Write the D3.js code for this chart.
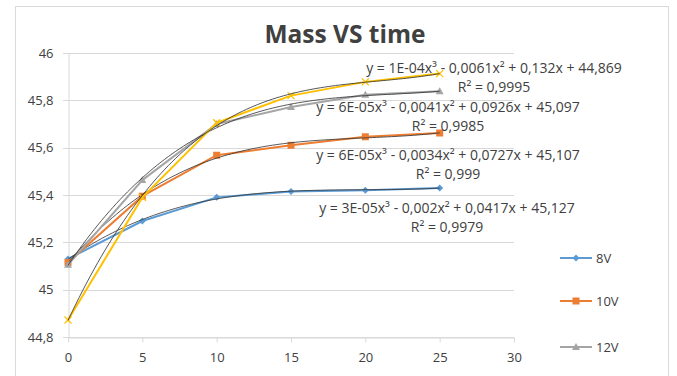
<!DOCTYPE html>
<html>
<head>
<meta charset="utf-8">
<script src="https://cdn.jsdelivr.net/npm/d3@7"></script>
<style>
  body { margin: 0; background: #fff; }
  text { font-family: "Open Sans", "DejaVu Sans", sans-serif; fill: #404040; }
</style>
</head>
<body>
<div id="chart"></div>
<script>
// data
const times = [0, 5, 10, 15, 20, 25];
const seriesNames = ["8V", "10V", "12V", "14V"];
const mass8V  = [45.13, 45.29, 45.39, 45.415, 45.42, 45.43];
const mass10V = [45.115, 45.395, 45.568, 45.61, 45.646, 45.662];
const mass12V = [45.105, 45.463, 45.70, 45.772, 45.824, 45.838];
const mass14V = [44.872, 45.39, 45.705, 45.82, 45.878, 45.913];
const equations = [
  "y = 3E-05x³ - 0,002x² + 0,0417x + 45,127",
  "y = 6E-05x³ - 0,0034x² + 0,0727x + 45,107",
  "y = 6E-05x³ - 0,0041x² + 0,0926x + 45,097",
  "y = 1E-04x³ - 0,0061x² + 0,132x + 44,869"
];
const rSquared = ["R² = 0,9979", "R² = 0,999", "R² = 0,9985", "R² = 0,9995"];
const xTicks = [0, 5, 10, 15, 20, 25, 30];
const yTicks = [44.8, 45, 45.2, 45.4, 45.6, 45.8, 46];

const allSeries = [mass8V, mass10V, mass12V, mass14V];
const colors = ["#5B9BD5", "#ED7D31", "#A5A5A5", "#FFC000"];
const markers = ["diamond", "square", "triangle", "cross"];
// where Excel put the trendline labels (centre x, baseline of the equation line)
const labelPos = [[447, 213], [448, 160], [448, 112], [494, 73]];

const width = 677, height = 376;
const margin = {top: 53, right: 163, bottom: 39, left: 68};

const svg = d3.select("#chart").append("svg")
  .attr("width", width).attr("height", height);

// chart frame
svg.append("rect")
  .attr("x", 15.5).attr("y", 6.5).attr("width", 653).attr("height", 380)
  .attr("fill", "none").attr("stroke", "#d9d9d9");

const x = d3.scaleLinear().domain([0, 30]).range([margin.left, width - margin.right]);
const y = d3.scaleLinear().domain([44.8, 46]).range([height - margin.bottom, margin.top]);

// gridlines
svg.append("g").selectAll("line").data(yTicks).join("line")
  .attr("x1", x(0) - 5).attr("x2", x(30))
  .attr("y1", d => Math.round(y(d)) + 0.5).attr("y2", d => Math.round(y(d)) + 0.5)
  .attr("stroke", "#d9d9d9");

// y axis
const yAxis = svg.append("g")
  .attr("transform", `translate(${Math.round(x(0)) + 0.5},0)`)
  .call(d3.axisLeft(y).tickValues(yTicks).tickSize(0).tickPadding(15)
    .tickFormat(d => String(d).replace(".", ",")));
yAxis.select(".domain").attr("stroke", "#d9d9d9");
yAxis.selectAll("text").style("font-size", "13px").attr("fill", "#595959");

// x axis
const xAxis = svg.append("g")
  .attr("transform", `translate(0,${Math.round(y(44.8)) + 0.5})`)
  .call(d3.axisBottom(x).tickValues(xTicks).tickSize(5).tickPadding(10).tickSizeOuter(0));
xAxis.select(".domain").attr("stroke", "#d9d9d9");
xAxis.selectAll("line").attr("stroke", "#d9d9d9");
xAxis.selectAll("text").style("font-size", "13px").attr("fill", "#595959");

// title
svg.append("text")
  .attr("x", 345).attr("y", 43)
  .attr("text-anchor", "middle")
  .style("font-size", "24.5px").style("font-weight", "bold").attr("fill", "#000")
  .text("Mass VS time");

// cubic least squares fit, like Excel's polynomial trendline
function cubicFit(xs, ys) {
  const n = 4;
  const A = [], b = [];
  for (let i = 0; i < n; i++) {
    A.push([]);
    for (let j = 0; j < n; j++) A[i].push(d3.sum(xs, v => Math.pow(v, i + j)));
    b.push(d3.sum(xs, (v, k) => Math.pow(v, i) * ys[k]));
  }
  for (let c = 0; c < n; c++) {
    for (let r = c + 1; r < n; r++) {
      const f = A[r][c] / A[c][c];
      for (let k = c; k < n; k++) A[r][k] -= f * A[c][k];
      b[r] -= f * b[c];
    }
  }
  const coef = new Array(n).fill(0);
  for (let r = n - 1; r >= 0; r--) {
    let s = b[r];
    for (let k = r + 1; k < n; k++) s -= A[r][k] * coef[k];
    coef[r] = s / A[r][r];
  }
  return t => coef[0] + coef[1] * t + coef[2] * t * t + coef[3] * t * t * t;
}

const line = d3.line().x(d => x(d[0])).y(d => y(d[1]));

function marker(g, type, color) {
  if (type === "diamond") {
    g.append("path").attr("d", "M0,-3.5L3.5,0L0,3.5L-3.5,0Z").attr("fill", color);
  } else if (type === "square") {
    g.append("rect").attr("x", -3.5).attr("y", -3.5).attr("width", 7).attr("height", 7).attr("fill", color);
  } else if (type === "triangle") {
    g.append("path").attr("d", "M0,-4L4,3L-4,3Z").attr("fill", color);
  } else {
    g.append("path").attr("d", "M-3.5,-3.5L3.5,3.5M-3.5,3.5L3.5,-3.5")
      .attr("stroke", color).attr("stroke-width", 1.3).attr("fill", "none");
  }
}

allSeries.forEach((vals, i) => {
  const pts = times.map((t, k) => [t, vals[k]]);
  const g = svg.append("g");
  g.append("path").datum(pts).attr("d", line)
    .attr("fill", "none").attr("stroke", colors[i]).attr("stroke-width", 2);
  g.selectAll("g.pt").data(pts).join("g")
    .attr("transform", d => `translate(${x(d[0])},${y(d[1])})`)
    .each(function() { marker(d3.select(this), markers[i], colors[i]); });

  const fit = cubicFit(times, vals);
  const curve = d3.range(0, 25.01, 0.25).map(t => [t, fit(t)]);
  g.append("path").datum(curve).attr("d", line)
    .attr("fill", "none").attr("stroke", "#3a3a3a").attr("stroke-width", 1).attr("opacity", 0.85);
});

// trendline labels
equations.forEach((eq, i) => {
  const [cx, cy] = labelPos[i];
  svg.append("text").attr("x", cx).attr("y", cy).attr("text-anchor", "middle")
    .style("font-size", "14px").text(eq);
  svg.append("text").attr("x", cx).attr("y", cy + 19).attr("text-anchor", "middle")
    .style("font-size", "14px").text(rSquared[i]);
});

// legend (only the first three entries fit in the frame)
const legendY = [258, 301, 347];
legendY.forEach((ly, i) => {
  const g = svg.append("g").attr("transform", `translate(560,${ly})`);
  g.append("line").attr("x1", 0).attr("x2", 32).attr("stroke", colors[i]).attr("stroke-width", 2);
  marker(g.append("g").attr("transform", "translate(16,0)"), markers[i], colors[i]);
  g.append("text").attr("x", 36).attr("y", 5).style("font-size", "13px").attr("fill", "#595959")
    .text(seriesNames[i]);
});
</script>
</body>
</html>
